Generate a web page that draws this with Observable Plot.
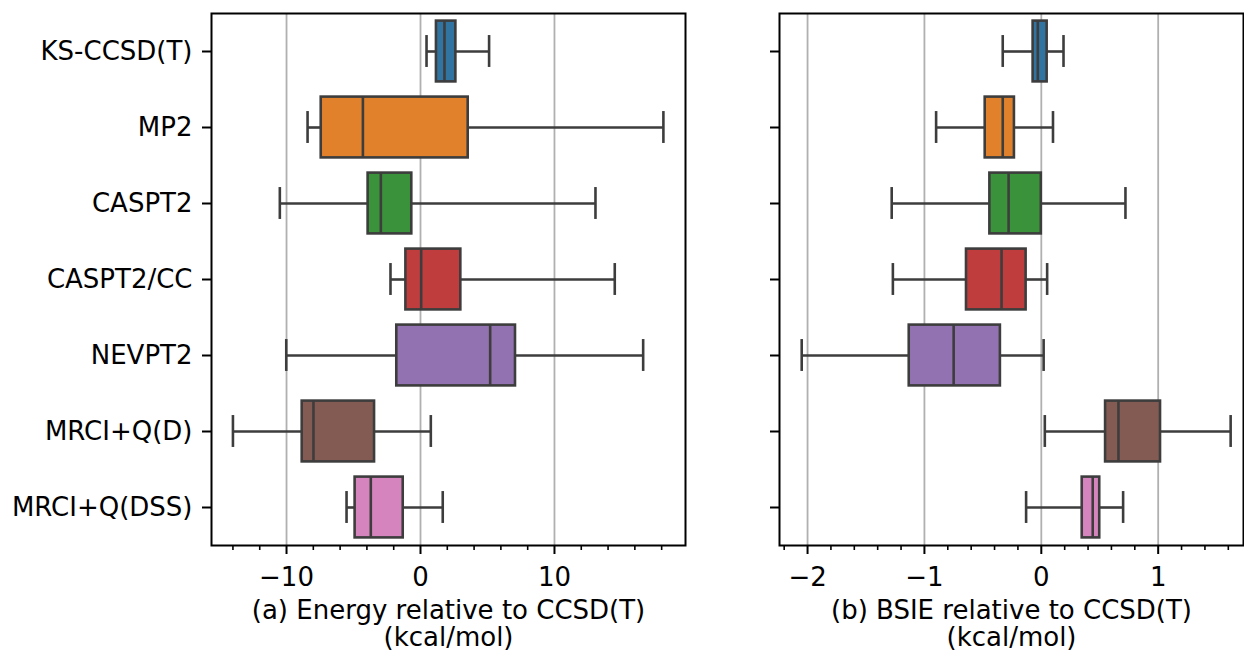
<!DOCTYPE html>
<html>
<head>
<meta charset="utf-8">
<script src="https://cdn.jsdelivr.net/npm/d3@7"></script>
<script src="https://cdn.jsdelivr.net/npm/@observablehq/plot@0.6"></script>
<style>
  html, body { margin: 0; padding: 0; background: white; }
  #wrap { display: flex; flex-direction: row; width: 1244px; height: 653px; }
  svg { display: block; }
</style>
</head>
<body>
<div id="wrap"></div>
<script>
const methods = ["KS-CCSD(T)", "MP2", "CASPT2", "CASPT2/CC", "NEVPT2", "MRCI+Q(D)", "MRCI+Q(DSS)"];
const colors = ["#3274a1", "#e1812c", "#3a923a", "#c03d3e", "#9372b2", "#845b53", "#d684bd"];

// (a) Energy relative to CCSD(T)
const energyLo  = [0.45, -8.43, -10.5, -2.24, -10.02, -14.0, -5.52];
const energyQ1  = [1.19, -7.41, -3.91, -1.09, -1.77, -8.83, -4.88];
const energyMed = [1.79, -4.30, -2.96, 0.05, 5.20, -7.99, -3.71];
const energyQ3  = [2.64, 3.56, -0.65, 3.01, 7.09, -3.43, -1.29];
const energyHi  = [5.12, 18.13, 13.06, 14.50, 16.62, 0.77, 1.66];

// (b) BSIE relative to CCSD(T)
const bsieLo  = [-0.33, -0.90, -1.28, -1.27, -2.05, 0.03, -0.13];
const bsieQ1  = [-0.07, -0.48, -0.44, -0.64, -1.13, 0.55, 0.35];
const bsieMed = [-0.03, -0.33, -0.28, -0.34, -0.75, 0.66, 0.44];
const bsieQ3  = [0.05, -0.23, 0.00, -0.13, -0.35, 1.02, 0.50];
const bsieHi  = [0.19, 0.10, 0.72, 0.05, 0.02, 1.62, 0.70];

const energyMajor = [-10, 0, 10];
const energyMinor = [-14, -12, -8, -6, -4, -2, 2, 4, 6, 8, 12, 14, 16, 18];
const bsieMajor = [-2, -1, 0, 1];
const bsieMinor = [-2.2, -1.8, -1.6, -1.4, -1.2, -0.8, -0.6, -0.4, -0.2, 0.2, 0.4, 0.6, 0.8, 1.2, 1.4, 1.6];

const energyData = methods.map((m, i) => ({method: m, color: colors[i], lo: energyLo[i], q1: energyQ1[i], med: energyMed[i], q3: energyQ3[i], hi: energyHi[i]}));
const bsieData = methods.map((m, i) => ({method: m, color: colors[i], lo: bsieLo[i], q1: bsieQ1[i], med: bsieMed[i], q3: bsieQ3[i], hi: bsieHi[i]}));

const FONT = "DejaVu Sans";
const FS = 26;
const edge = "#3d3d3d";
const band = 76;
const boxInset = band * 0.1;
const capInset = band * 0.29;
const fmt = d3.format("~g");

function panel({data, width, marginLeft, marginRight, domain, major, minor, label, showY}) {
  return Plot.plot({
    width, height: 653,
    marginTop: 13, marginBottom: 108, marginLeft, marginRight,
    style: {fontFamily: FONT, fontSize: FS + "px", color: "black", background: "white", overflow: "visible"},
    x: {domain, label: null},
    y: {type: "band", domain: methods, padding: 0, label: null},
    marks: [
      Plot.gridX(major, {stroke: "#b0b0b0", strokeOpacity: 1, strokeWidth: 1.8}),
      Plot.ruleY(data, {y: "method", x1: "lo", x2: "q1", stroke: edge, strokeWidth: 2.6}),
      Plot.ruleY(data, {y: "method", x1: "q3", x2: "hi", stroke: edge, strokeWidth: 2.6}),
      Plot.tickX(data, {x: "lo", y: "method", stroke: edge, strokeWidth: 2.6, insetTop: capInset, insetBottom: capInset}),
      Plot.tickX(data, {x: "hi", y: "method", stroke: edge, strokeWidth: 2.6, insetTop: capInset, insetBottom: capInset}),
      Plot.barX(data, {x1: "q1", x2: "q3", y: "method", fill: d => d.color, stroke: edge, strokeWidth: 2.6, insetTop: boxInset, insetBottom: boxInset}),
      Plot.tickX(data, {x: "med", y: "method", stroke: edge, strokeWidth: 2.6, insetTop: boxInset, insetBottom: boxInset}),
      Plot.axisX({ticks: minor, tickSize: 5, strokeWidth: 1.6, tickFormat: () => "", label: null}),
      Plot.axisX({ticks: major, tickSize: 9, tickPadding: 13, strokeWidth: 2, label: null, fontSize: FS, tickFormat: fmt}),
      Plot.axisY({tickSize: 9, tickPadding: 10, strokeWidth: 2, label: null, fontSize: FS, tickFormat: showY ? (d => d) : (() => "")}),
      Plot.frame({stroke: "black", strokeWidth: 2}),
      Plot.text([label], {frameAnchor: "bottom", text: d => d, dy: 54, lineAnchor: "top", lineHeight: 1.05, fontSize: FS, fill: "black"})
    ]
  });
}

const wrap = document.getElementById("wrap");
wrap.appendChild(panel({
  data: energyData, width: 730, marginLeft: 211, marginRight: 45,
  domain: [-15.6, 19.78], major: energyMajor, minor: energyMinor,
  label: "(a) Energy relative to CCSD(T)\n(kcal/mol)", showY: true
}));
wrap.appendChild(panel({
  data: bsieData, width: 514, marginLeft: 49, marginRight: 1,
  domain: [-2.24, 1.73], major: bsieMajor, minor: bsieMinor,
  label: "(b) BSIE relative to CCSD(T)\n(kcal/mol)", showY: false
}));
</script>
</body>
</html>
